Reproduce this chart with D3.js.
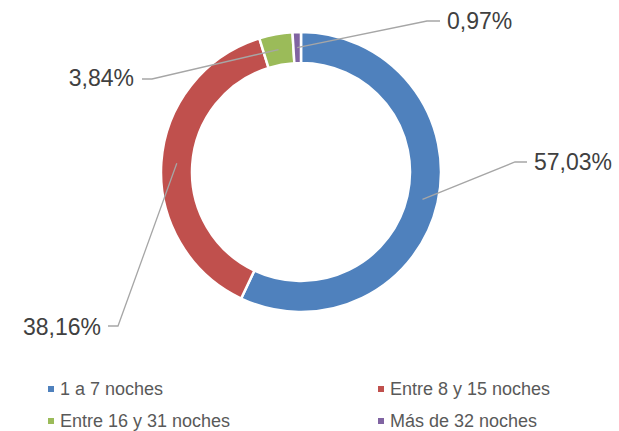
<!DOCTYPE html>
<html>
<head>
<meta charset="utf-8">
<script src="https://cdn.jsdelivr.net/npm/d3@7"></script>
<style>
  body { margin: 0; background: #fff; }
  svg { display: block; font-family: "Liberation Sans", Arial, sans-serif; }
</style>
</head>
<body>
<svg id="chart" width="619" height="431"></svg>
<script>
const categories = ["1 a 7 noches", "Entre 8 y 15 noches", "Entre 16 y 31 noches", "Más de 32 noches"];
const values = [57.03, 38.16, 3.84, 0.97];
const labels = ["57,03%", "38,16%", "3,84%", "0,97%"];
const colors = ["#4F81BD", "#C0504D", "#9BBB59", "#8064A2"];

// elbow point and text anchor for each label
const labelLayout = [
    { elbow: [515, 162], end: [527, 162], text: [534, 162], anchor: "start" },
    { elbow: [118, 326], end: [108, 326], text: [101, 327], anchor: "end" },
    { elbow: [152, 79], end: [142, 79], text: [134, 78], anchor: "end" },
    { elbow: [427, 21], end: [440, 21], text: [447, 21], anchor: "start" }
];

const svg = d3.select("#chart");
const cx = 301, cy = 172;
const outerR = 140, innerR = 109;

const pie = d3.pie().sort(null).value(d => d);
const arcs = pie(values);

const arc = d3.arc().innerRadius(innerR).outerRadius(outerR);
const midArc = d3.arc().innerRadius((innerR + outerR) / 2).outerRadius((innerR + outerR) / 2);

const g = svg.append("g").attr("transform", `translate(${cx},${cy})`);

g.selectAll("path")
    .data(arcs)
    .join("path")
    .attr("d", arc)
    .attr("fill", (d, i) => colors[i])
    .attr("stroke", "#fff")
    .attr("stroke-width", 2.5);

// leader lines + labels
arcs.forEach((d, i) => {
    const c = midArc.centroid(d);
    const lay = labelLayout[i];
    svg.append("polyline")
        .attr("points", [[c[0] + cx, c[1] + cy], lay.elbow, lay.end].map(p => p.join(",")).join(" "))
        .attr("fill", "none")
        .attr("stroke", "#A6A6A6")
        .attr("stroke-width", 1.3);
    svg.append("text")
        .attr("x", lay.text[0])
        .attr("y", lay.text[1])
        .attr("dy", "0.35em")
        .attr("text-anchor", lay.anchor)
        .attr("font-size", 23)
        .attr("fill", "#404040")
        .text(labels[i]);
});

// legend
const legendX = [48, 378];
const legendY = [389, 421];
const legend = svg.append("g");
categories.forEach((c, i) => {
    const x = legendX[i % 2], y = legendY[Math.floor(i / 2)];
    legend.append("rect")
        .attr("x", x)
        .attr("y", y - 3)
        .attr("width", 6)
        .attr("height", 6)
        .attr("fill", colors[i]);
    legend.append("text")
        .attr("x", x + 12)
        .attr("y", y)
        .attr("dy", "0.35em")
        .attr("font-size", 18)
        .attr("fill", "#595959")
        .text(c);
});
</script>
</body>
</html>
